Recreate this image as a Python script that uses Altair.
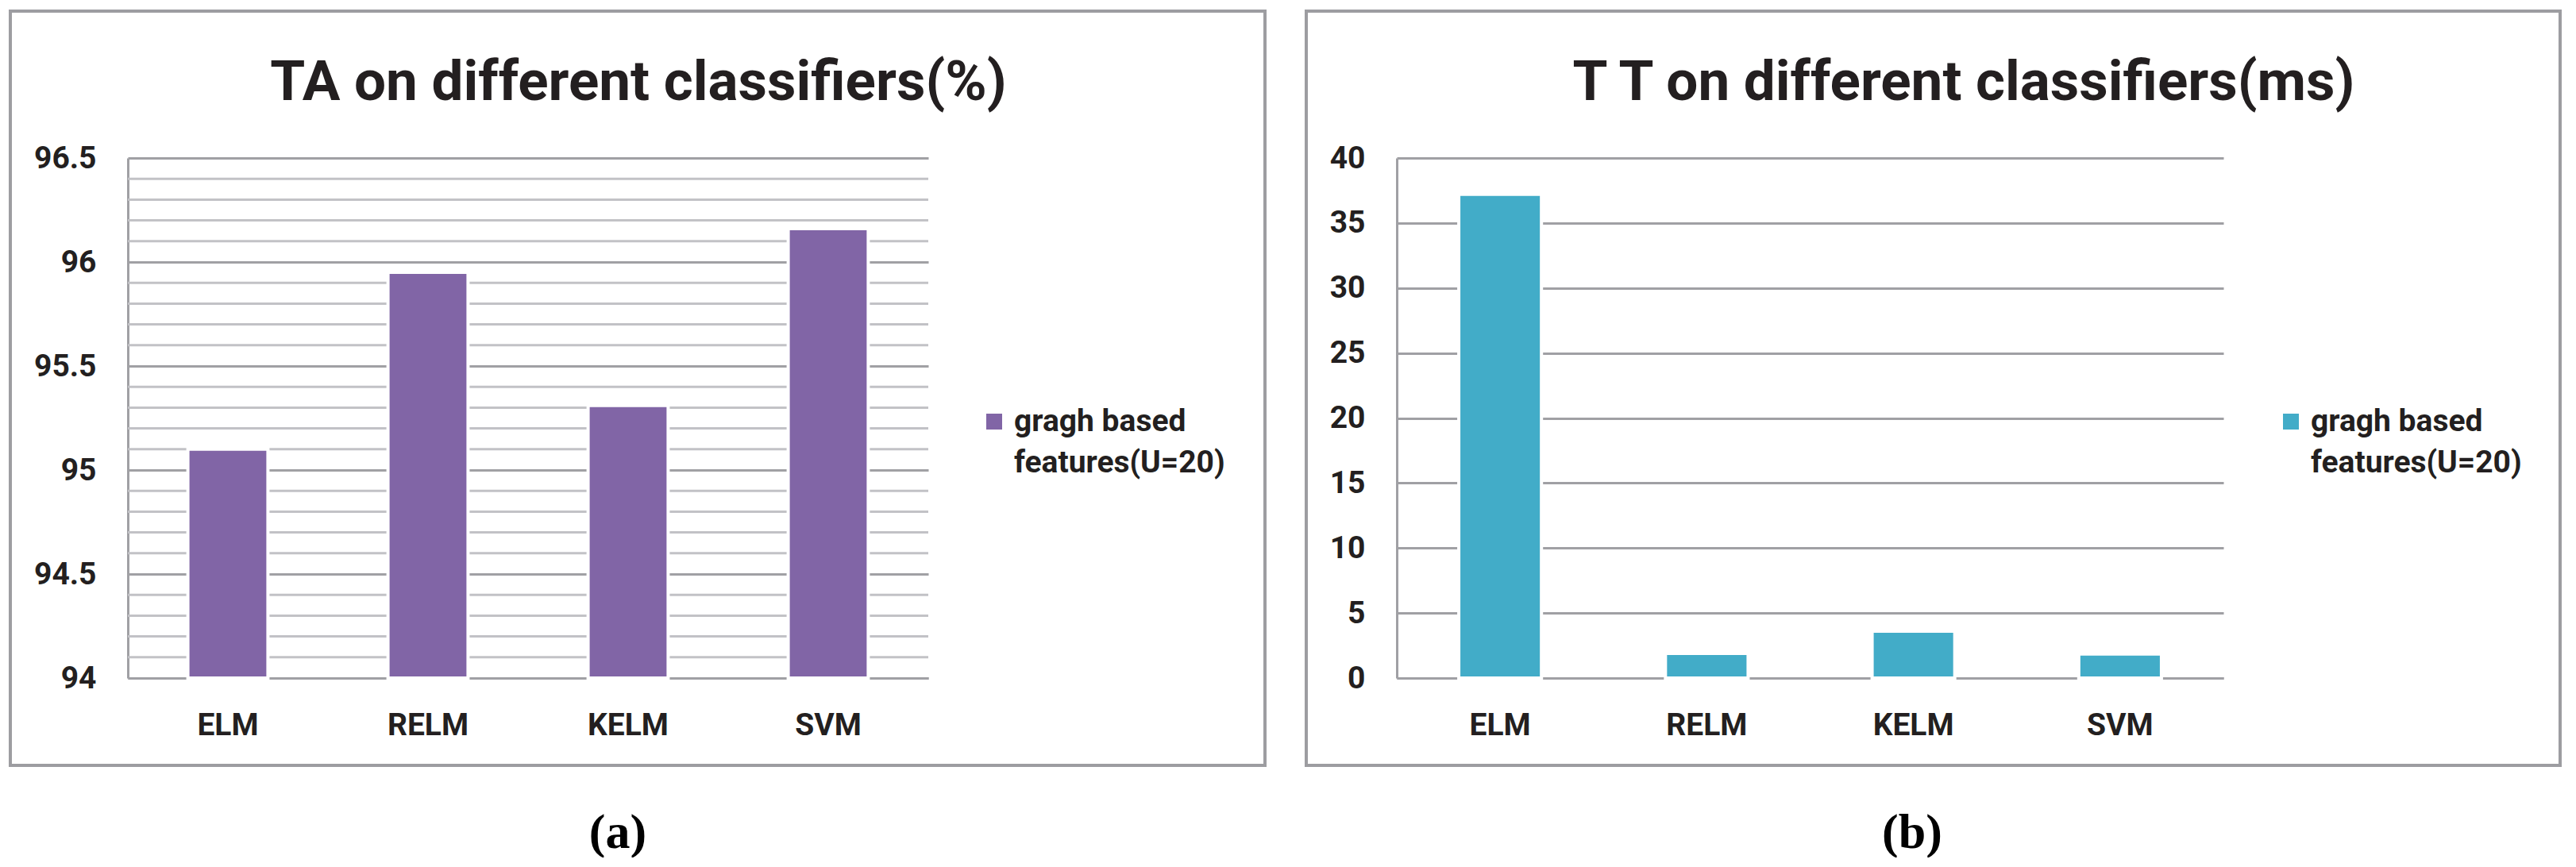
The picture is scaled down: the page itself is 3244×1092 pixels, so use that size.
import altair as alt
import pandas as pd

# ---------------- data ----------------
classifiers = ["ELM", "RELM", "KELM", "SVM"]
ta_values = [95.10, 95.95, 95.31, 96.16]      # TA (%)
tt_values = [37.2, 1.9, 3.6, 1.85]            # TT (ms)
legend_lines = ["gragh based", "features(U=20)"]
title_a = "TA on different classifiers(%)"
title_b = "T T on different classifiers(ms)"
tag_a = "(a)"
tag_b = "(b)"
ta_ticks = [94, 94.5, 95, 95.5, 96, 96.5]
ta_minor = [94.1, 94.2, 94.3, 94.4, 94.6, 94.7, 94.8, 94.9, 95.1, 95.2, 95.3, 95.4,
            95.6, 95.7, 95.8, 95.9, 96.1, 96.2, 96.3, 96.4]
tt_ticks = [0, 5, 10, 15, 20, 25, 30, 35, 40]

# ---------------- style ----------------
FONT = "Roboto"
TXT = "#231F20"
MAJOR = "#a0a0a4"
MINOR = "#c2c2c6"
BORDER = "#9d9da1"
PURPLE = "#8165A6"
TEAL = "#42ACC8"
H = 655


def one():
    return alt.Data(values=[{}])


def panel(values, color, ticks, domain, minor, W, title, tag, geo):
    df = pd.DataFrame({"classifier": classifiers, "value": values})
    yscale = alt.Scale(domain=domain, zero=False, nice=False)
    yaxis = alt.Axis(title=None, values=ticks, format="~g", ticks=False,
                     grid=True, gridColor=MAJOR, gridWidth=3,
                     domainColor=MAJOR, domainWidth=3,
                     labelFont=FONT, labelFontSize=39, labelFontWeight="bold",
                     labelColor=TXT, labelPadding=40)
    xenc = alt.X(
        "classifier:N", sort=classifiers,
        scale=alt.Scale(paddingInner=0.6, paddingOuter=0.3),
        axis=alt.Axis(title=None, labelAngle=0, ticks=False, grid=False,
                      domainColor=MAJOR, domainWidth=3,
                      labelFont=FONT, labelFontSize=39, labelFontWeight="bold",
                      labelColor=TXT, labelPadding=40),
    )
    yenc = alt.Y("value:Q", scale=yscale, axis=yaxis)
    base_y2 = alt.Y2Datum(domain[0])
    layers = []
    layers.append(
        alt.Chart(one()).mark_rect(filled=False, stroke=BORDER, strokeWidth=4).encode(
            x=alt.value(geo["bx1"]), x2=alt.value(geo["bx2"]),
            y=alt.value(geo["by1"]), y2=alt.value(geo["by2"]))
    )
    if minor:
        layers.append(
            alt.Chart(pd.DataFrame({"value": minor})).mark_rule(
                color=MINOR, strokeWidth=3).encode(
                y=yenc, x=alt.value(0), x2=alt.value(W))
        )
    layers.append(
        alt.Chart(df).mark_bar(color="#7a7a7a", opacity=0.35, yOffset=5).encode(
            x=xenc, y=yenc, y2=base_y2)
    )
    layers.append(
        alt.Chart(df).mark_bar(color=color, stroke="white", strokeWidth=4).encode(
            x=xenc, y=yenc, y2=base_y2)
    )
    layers.append(
        alt.Chart(one()).mark_text(font=FONT, fontSize=71, fontWeight="bold",
                                   color=TXT, align="center",
                                   baseline="alphabetic").encode(
            x=alt.value(geo["tx"]), y=alt.value(-73), text=alt.value(title))
    )
    layers.append(
        alt.Chart(one()).mark_text(font="Liberation Serif", fontSize=62,
                                   fontWeight="bold", color="black",
                                   align="center", baseline="alphabetic").encode(
            x=alt.value(geo["gx"]), y=alt.value(869), text=alt.value(tag))
    )
    layers.append(
        alt.Chart(one()).mark_square(size=400, color=color, opacity=1).encode(
            x=alt.value(geo["lx"]), y=alt.value(332))
    )
    layers.append(
        alt.Chart(one()).mark_text(font=FONT, fontSize=39, fontWeight="bold",
                                   color=TXT, align="left", baseline="alphabetic",
                                   lineHeight=52).encode(
            x=alt.value(geo["lx"] + 25), y=alt.value(344),
            text=alt.value(legend_lines))
    )
    return alt.layer(*layers).properties(width=W, height=H)


geo_a = dict(bx1=-148, bx2=1432, by1=-185, by2=765, tx=643, gx=617, lx=1091)
geo_b = dict(bx1=-114, bx2=1465, by1=-185, by2=765, tx=714, gx=649, lx=1126)

chart_a = panel(ta_values, PURPLE, ta_ticks, [94, 96.5], ta_minor, 1008, title_a, tag_a, geo_a)
chart_b = panel(tt_values, TEAL, tt_ticks, [0, 40], None, 1041, title_b, tag_b, geo_b)

chart = alt.hconcat(chart_a, chart_b, spacing=590, bounds="flush").resolve_scale(
    x="independent", y="independent"
).configure_view(strokeWidth=0).properties(
    padding={"left": 3, "top": 4, "right": 0, "bottom": 0},
    background="white",
)

chart.save("out.html", embed_options={"renderer": "svg", "actions": False})
